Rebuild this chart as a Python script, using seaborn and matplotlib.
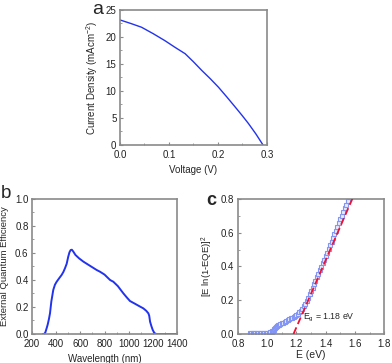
import matplotlib
matplotlib.use("Agg")
import matplotlib.pyplot as plt
from matplotlib.ticker import AutoMinorLocator, MultipleLocator
import seaborn as sns
import numpy as np
import pandas as pd

# (a) J-V curve
voltage = [0.0, 0.022, 0.044, 0.068, 0.092, 0.112, 0.133, 0.150, 0.167, 0.184,
           0.201, 0.218, 0.235, 0.249, 0.262, 0.277, 0.292]
current = [23.15, 22.5, 21.8, 20.6, 19.3, 18.1, 16.9, 15.4, 13.8, 12.3,
           10.7, 8.9, 7.05, 5.5, 4.0, 2.1, 0.0]

# (b) EQE spectrum
wavelength = [290, 300, 310, 321, 330, 340, 349, 360, 376, 390, 404, 425, 445, 460,
              473, 487, 500, 510, 520, 530, 542, 560, 590, 625, 680, 735, 763,
              800, 846, 873, 910, 956, 985, 1011, 1050, 1090, 1121, 1145, 1163,
              1170, 1177, 1188, 1199, 1212, 1227, 1250, 1300, 1350, 1400]
eqe = [0.0, 0.0, 0.01, 0.042, 0.07, 0.11, 0.153, 0.24, 0.326, 0.365, 0.387, 0.413,
       0.437, 0.46, 0.487, 0.52, 0.573, 0.605, 0.622, 0.624, 0.61, 0.585, 0.56,
       0.536, 0.505, 0.474, 0.461, 0.44, 0.4, 0.387, 0.355, 0.301, 0.27, 0.244,
       0.225, 0.205, 0.19, 0.172, 0.153, 0.135, 0.091, 0.058, 0.03, 0.008, 0.0,
       0.0, 0.0, 0.0, 0.0]

# (c) Tauc-type plot
energy = [0.88, 0.89, 0.90, 0.91, 0.92, 0.93, 0.94, 0.95, 0.96, 0.97, 0.98, 0.99,
          1.00, 1.01, 1.02, 1.03, 1.035, 1.04, 1.045, 1.05, 1.055, 1.06, 1.065,
          1.07, 1.075, 1.08, 1.09, 1.10, 1.11, 1.12, 1.13, 1.14, 1.15, 1.16, 1.17,
          1.18, 1.19, 1.20, 1.21, 1.22, 1.23, 1.24, 1.25, 1.26, 1.27, 1.28, 1.29,
          1.30, 1.31, 1.32, 1.33, 1.34, 1.35, 1.36, 1.37, 1.38, 1.39, 1.40, 1.41,
          1.42, 1.43, 1.44, 1.45, 1.46, 1.47, 1.48, 1.49, 1.50, 1.51, 1.52, 1.53,
          1.54, 1.55, 1.56]
tauc = [0.004, 0.004, 0.004, 0.004, 0.005, 0.005, 0.005, 0.005, 0.006, 0.006, 0.006,
        0.007, 0.007, 0.008, 0.009, 0.012, 0.015, 0.020, 0.026, 0.032, 0.038, 0.043,
        0.047, 0.050, 0.053, 0.055, 0.060, 0.064, 0.068, 0.073, 0.077, 0.082, 0.087,
        0.092, 0.097, 0.102, 0.108, 0.114, 0.120, 0.128, 0.138, 0.150, 0.165, 0.180,
        0.198, 0.215, 0.235, 0.255, 0.275, 0.295, 0.315, 0.336, 0.357, 0.378, 0.398,
        0.419, 0.440, 0.461, 0.482, 0.503, 0.525, 0.547, 0.569, 0.591, 0.613, 0.635,
        0.657, 0.679, 0.701, 0.723, 0.745, 0.767, 0.789, 0.811]
eg = 1.18
fit_slope = 1.99
fit_end = 1.60

sns.set_style("ticks")
plt.rcParams["font.family"] = ["Liberation Sans", "DejaVu Sans"]
plt.rcParams["mathtext.fontset"] = "custom"
plt.rcParams["mathtext.rm"] = "Liberation Sans"
plt.rcParams["mathtext.it"] = "Liberation Sans"

fig = plt.figure(figsize=(3.92, 3.63), dpi=100)
ax_a = fig.add_axes([0.306, 0.6006, 0.375, 0.372])
ax_b = fig.add_axes([0.0816, 0.0799, 0.370, 0.372])
ax_c = fig.add_axes([0.607, 0.0799, 0.373, 0.372])

blue = "#2233ee"
sns.lineplot(x=voltage, y=current, ax=ax_a, color=blue, lw=1.0)
sns.lineplot(x=wavelength, y=eqe, ax=ax_b, color=blue, lw=1.4)

df_c = pd.DataFrame({"E": energy, "y": tauc})
ax_c.plot(df_c["E"], df_c["y"], ls="none", marker="s", ms=3.4, mfc="#e8ecff",
          mec="#8395f4", mew=0.8, zorder=2)
fit_x = np.array([eg, fit_end])
ax_c.plot(fit_x, fit_slope * (fit_x - eg), color="#ee1133", ls=(0, (4, 2)), lw=1.3, zorder=3)
ax_c.text(1.245, 0.085, r"E$_\mathregular{g}$ = 1.18 eV", fontsize=6.3)

ax_a.set(xlim=(0, 0.3), ylim=(0, 25))
ax_a.xaxis.set_major_locator(MultipleLocator(0.1))
ax_a.yaxis.set_major_locator(MultipleLocator(5))
ax_a.set_xticklabels([f"{v:.1f}" for v in ax_a.get_xticks()])
ax_a.set_xlabel("Voltage (V)", fontsize=7)
ax_a.set_ylabel(r"Current Density (mAcm$^{-2}$)", fontsize=7)

ax_b.set(xlim=(200, 1400), ylim=(0, 1.0))
ax_b.xaxis.set_major_locator(MultipleLocator(200))
ax_b.yaxis.set_major_locator(MultipleLocator(0.2))
ax_b.set_yticklabels([f"{v:.1f}" for v in ax_b.get_yticks()])
ax_b.set_xlabel("Wavelength (nm)", fontsize=7)
ax_b.set_ylabel("External Quantum Efficiency", fontsize=6.8)

ax_c.set(xlim=(0.8, 1.8), ylim=(0, 0.8))
ax_c.xaxis.set_major_locator(MultipleLocator(0.2))
ax_c.yaxis.set_major_locator(MultipleLocator(0.2))
ax_c.set_xticklabels([f"{v:.1f}" for v in ax_c.get_xticks()])
ax_c.set_yticklabels([f"{v:.1f}" for v in ax_c.get_yticks()])
ax_c.set_xlabel("E (eV)", fontsize=7.5, labelpad=1)
ax_c.set_ylabel(r"[E ln(1-EQE)]$^2$", fontsize=6.8)

for ax in (ax_a, ax_b, ax_c):
    for s in ax.spines.values():
        s.set_visible(True)
        s.set_color("#8a8a8a")
        s.set_linewidth(1.2)
    ax.xaxis.set_minor_locator(AutoMinorLocator(2))
    ax.yaxis.set_minor_locator(AutoMinorLocator(2))
    ax.tick_params(which="both", direction="in", colors="#8a8a8a",
                   labelcolor="#222222", labelsize=7, top=False, right=False)
    ax.tick_params(which="major", length=2.5, width=0.8)
    ax.tick_params(axis="x", which="major", pad=3.5)
    ax.tick_params(axis="y", which="major", pad=2.5)
    ax.tick_params(which="minor", length=1.5, width=0.6)

fig.text(92 / 392, 1 - 14 / 363, "a", fontsize=14)
fig.text(1 / 392, 1 - 198 / 363, "b", fontsize=13.5)
fig.text(206 / 392, 1 - 205 / 363, "c", fontsize=13, fontweight="bold")

fig.savefig("out.png", dpi=100)
